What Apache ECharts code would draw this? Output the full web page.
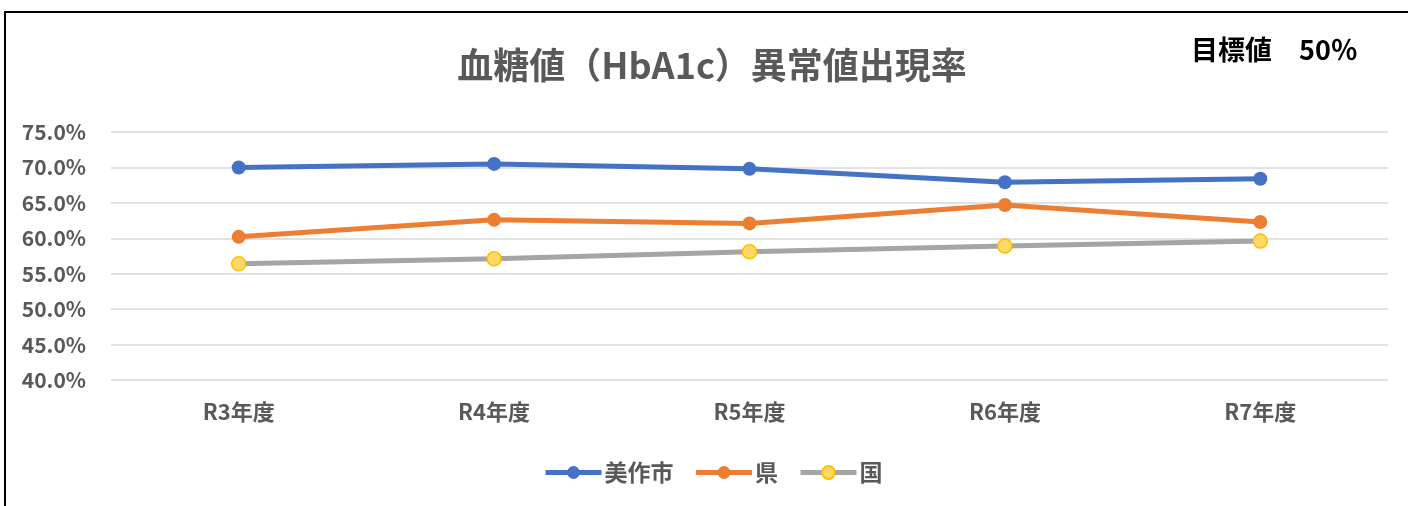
<!DOCTYPE html>
<html><head><meta charset="utf-8">
<script src="https://cdn.jsdelivr.net/npm/echarts@6/dist/echarts.min.js"></script>
<style>html,body{margin:0;padding:0;background:#fff}#c{width:1408px;height:506px}</style>
</head><body><div id="c"></div>
<script>
const categories = ['R3年度','R4年度','R5年度','R6年度','R7年度'];
const cityValues = [70.0, 70.5, 69.8, 67.9, 68.4];
const prefValues = [60.2, 62.6, 62.1, 64.7, 62.3];
const nationValues = [56.4, 57.1, 58.1, 58.9, 59.6];
const seriesNames = ['美作市','県','国'];
const titleText = '血糖値（HbA1c）異常値出現率';
const targetText = '目標値　50％';

const FONT = '"Noto Sans CJK JP", "Noto Sans", sans-serif';
const chart = echarts.init(document.getElementById('c'), null, {renderer:'canvas'});
function mk(name, data, color, fill, border){
  return {
    name, type:'line', data, symbol:'circle', symbolSize:14,
    lineStyle:{color, width:5},
    itemStyle:{color: fill, borderColor: border, borderWidth: border===fill?0:1.5},
    emphasis:{disabled:true}
  };
}
chart.setOption({
  animation:false,
  textStyle:{fontFamily:FONT},
  title:{text:titleText, left:707, textAlign:'center', top:42,
    textStyle:{fontFamily:FONT, fontSize:36, fontWeight:'bold', color:'#595959'}},
  graphic:[
    {type:'rect', shape:{x:5, y:12, width:1500, height:600}, style:{fill:null, stroke:'#000', lineWidth:2}, silent:true},
    {type:'text', left:1191, top:36, style:{text:targetText, font:'bold 27px '+FONT, fill:'#000'}}
  ],
  legend:{data:seriesNames, bottom:17, left:538, itemWidth:56, itemHeight:16, itemGap:20,
    lineStyle:{width:5},
    textStyle:{fontFamily:FONT, fontSize:23, fontWeight:'bold', color:'#595959', padding:[0,0,0,-2]}},
  grid:{left:111, right:20, top:132, bottom:126, containLabel:false},
  xAxis:{type:'category', data:categories, boundaryGap:true,
    axisLine:{show:false}, axisTick:{show:false},
    axisLabel:{margin:21, fontFamily:FONT, fontSize:22, fontWeight:'bold', color:'#595959'}},
  yAxis:{type:'value', min:40, max:75, interval:5,
    axisLine:{show:false}, axisTick:{show:false},
    splitLine:{lineStyle:{color:'#D9D9D9', width:1.5}},
    axisLabel:{margin:25, fontFamily:FONT, fontSize:21, fontWeight:'bold', color:'#595959',
      formatter:v=>v.toFixed(1)+'%'}},
  series:[
    mk(seriesNames[0], cityValues, '#4472C4', '#4472C4', '#4472C4'),
    mk(seriesNames[1], prefValues, '#ED7D31', '#ED7D31', '#ED7D31'),
    mk(seriesNames[2], nationValues, '#A5A5A5', '#FFD966', '#FFC000')
  ]
});
</script></body></html>
